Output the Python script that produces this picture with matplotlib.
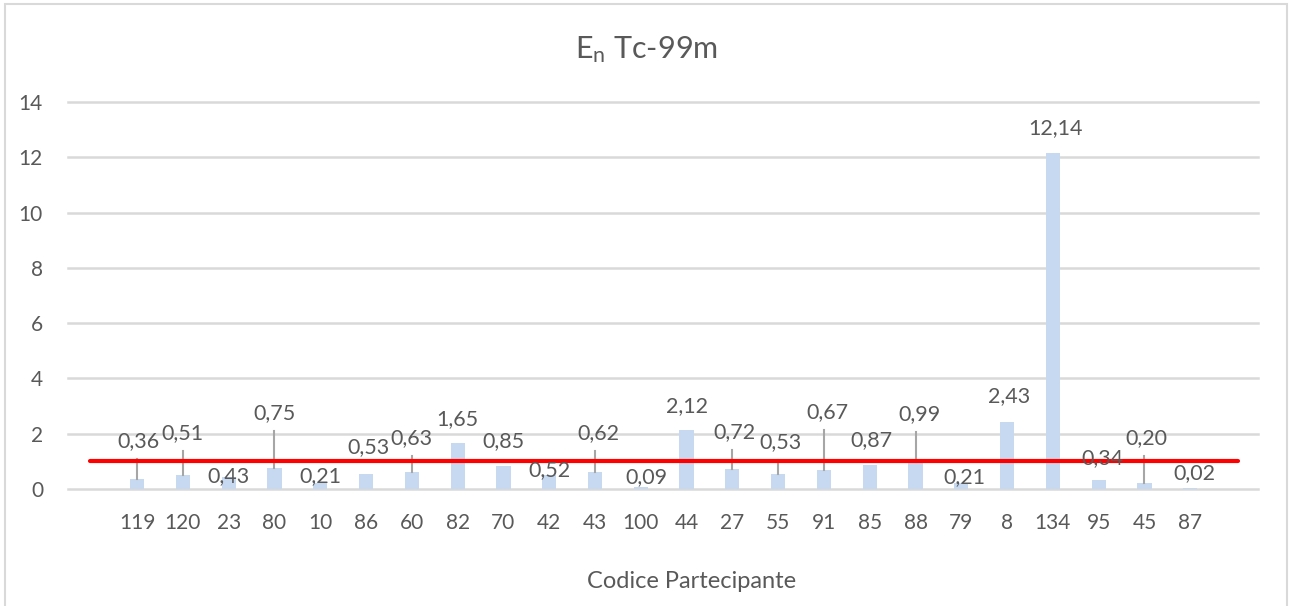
import matplotlib
matplotlib.use("Agg")
import matplotlib.pyplot as plt
from matplotlib.patches import Rectangle

# ---- data ----
categories = ["119", "120", "23", "80", "10", "86", "60", "82", "70", "42", "43", "100",
              "44", "27", "55", "91", "85", "88", "79", "8", "134", "95", "45", "87"]
en_values = [0.36, 0.51, 0.43, 0.75, 0.21, 0.53, 0.63, 1.65, 0.85, 0.52, 0.62, 0.09,
             2.12, 0.72, 0.53, 0.67, 0.87, 0.99, 0.21, 2.43, 12.14, 0.34, 0.20, 0.02]
limit_value = 1.0
y_ticks = [0, 2, 4, 6, 8, 10, 12, 14]

# label placement (data-y of label centre) and whether a leader line is drawn
label_y = [1.74, 2.03, 0.47, 2.75, 0.47, 1.52, 1.85, 2.53, 1.74, 0.69, 2.03, 0.43,
           3.00, 2.06, 1.70, 2.79, 1.77, 2.71, 0.43, 3.36, 13.06, 1.12, 1.85, 0.58]
label_dx = [0.03, 0.0, 0.0, 0.0, 0.0, 0.05, 0.0, 0.0, 0.0, 0.0, 0.08, 0.12,
            0.0, 0.05, 0.05, 0.08, 0.03, 0.08, 0.07, 0.05, 0.05, 0.08, 0.05, 0.08]
leader = [True, True, False, True, False, False, True, False, False, False, True, False,
          False, True, True, True, False, True, False, False, False, False, True, False]

plt.rcParams['font.family'] = ['Lato', 'DejaVu Sans']
plt.rcParams['mathtext.fontset'] = 'custom'
plt.rcParams['mathtext.rm'] = 'Lato'
plt.rcParams['mathtext.it'] = 'Lato'

W, H = 1289, 606
fig = plt.figure(figsize=(W / 100, H / 100), dpi=100)
fig.patch.set_facecolor('white')

# axes: x from 68 to 1258 px, y0 at 489 px, y14 at 102 px
ax = fig.add_axes([68 / W, (H - 489) / H, (1258 - 68) / W, (489 - 102) / H])
ax.set_ylim(0, 14)
ax.set_xlim(-1.51, 24.48)

grey = '#595959'
gridc = '#d9d9d9'

for yt in y_ticks:
    ax.axhline(yt, color=gridc, lw=1.8, zorder=0, clip_on=False)

x = list(range(len(categories)))
ax.bar(x, en_values, width=0.31, color='#c6d9f0', zorder=2)

ax.plot([-1.03, 24.04], [limit_value, limit_value], color='#ff0000', lw=3, zorder=4,
        solid_capstyle='round')

for i, (v, ly, dx, ld) in enumerate(zip(en_values, label_y, label_dx, leader)):
    txt = f"{v:.2f}".replace('.', ',')
    ax.text(i + dx, ly, txt, ha='center', va='center', fontsize=15.5, color=grey, zorder=5)
    if ld:
        ax.plot([i, i], [ly - 0.65, v], color='#a6a6a6', lw=1.5, zorder=3)

for s in ax.spines.values():
    s.set_visible(False)
ax.set_yticks(y_ticks)
ax.set_yticklabels([str(t) for t in y_ticks], fontsize=15, color=grey)
ax.set_xticks(x)
ax.set_xticklabels(categories, fontsize=15, color=grey)
ax.tick_params(axis='both', length=0)
ax.tick_params(axis='y', pad=18)
ax.tick_params(axis='x', pad=17)

fig.text(646 / W, 1 - 50 / H, r'$\mathregular{E_n}$ Tc-99m', ha='center', va='center',
         fontsize=22, color=grey)
fig.text(692 / W, 1 - 581 / H, 'Codice Partecipante', ha='center', va='center',
         fontsize=17, color=grey)

fig.add_artist(Rectangle((5 / W, -0.05), (1287 - 5) / W, 1.05 - 4 / H,
                         transform=fig.transFigure, fill=False, edgecolor=gridc, lw=1.5))

fig.savefig('out.png', dpi=100)
